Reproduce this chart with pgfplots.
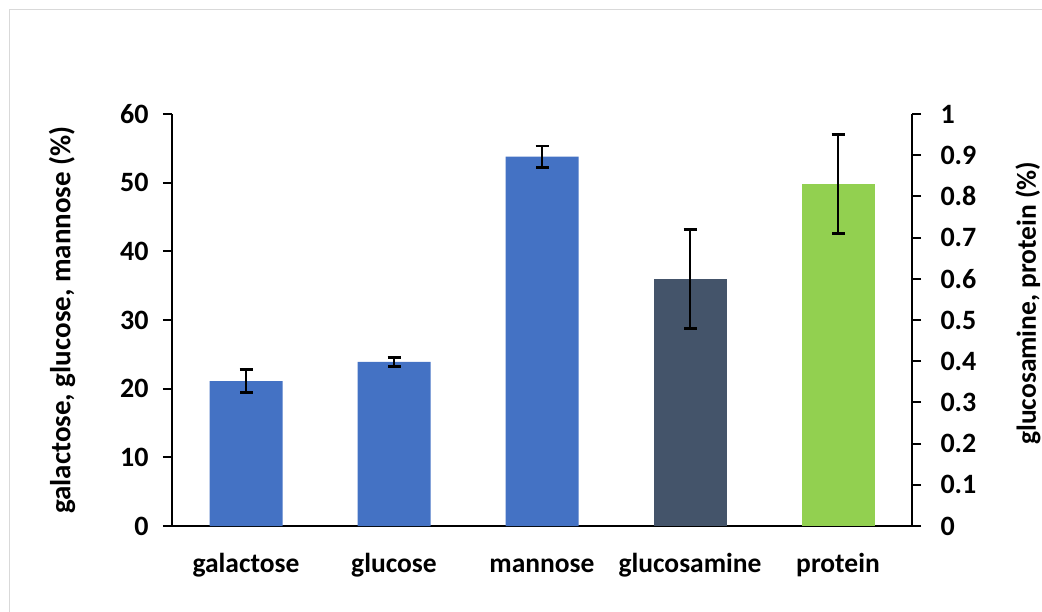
\documentclass[border=0pt]{standalone}
\usepackage{fontspec}
\setmainfont{Carlito}
\usepackage{pgfplots}
\pgfplotsset{compat=1.18}

\definecolor{barblue}{HTML}{4472C4}
\definecolor{barslate}{HTML}{44546A}
\definecolor{bargreen}{HTML}{92D050}
\definecolor{framegray}{HTML}{D9D9D9}

\pgfplotsset{
  common/.style={
    scale only axis, width=740pt, height=412pt,
    at={(172pt,-526pt)}, anchor=south west,
    xmin=-0.5, xmax=4.5,
    tick align=outside,
    major tick length=9pt,
    axis line style={line width=2.4pt, black},
    every tick/.style={line width=2pt, black},
    tick label style={font=\bfseries\fontsize{28}{32}\selectfont},
    /pgf/number format/assume math mode=true,
    clip=false,
  },
  errs/.style={
    error bars/.cd, y dir=both, y explicit,
    error bar style={line width=2.6pt, black},
    error mark options={rotate=90, mark size=6.5pt, line width=2.6pt, black},
  },
}

\begin{document}
\begin{tikzpicture}[x=1pt,y=1pt]
\useasboundingbox (0,0) rectangle (1042,-612);
\draw[framegray, line width=1.5pt] (9.5,-612) -- (9.5,-9.5) -- (1042,-9.5);

% left axis: neutral sugars
\begin{axis}[
  common,
  ymin=0, ymax=60,
  axis x line*=bottom, axis y line*=left,
  xtick={0,1,2,3,4},
  xticklabels={galactose,glucose,mannose,glucosamine,protein},
  x tick style={draw=none},
  xticklabel style={anchor=base, yshift=-37pt, font=\bfseries\fontsize{27.5}{32}\selectfont},
  ytick={0,10,...,60},
  yticklabel style={xshift=-11pt},
  ylabel={galactose, glucose, mannose (\%)},
  ylabel style={at={(axis description cs:-0.1486,0.5)}, anchor=center,
    font=\bfseries\fontsize{29}{33}\selectfont},
]
\addplot[ybar, bar width=73pt, fill=barblue, draw=none, errs]
  coordinates {(0,21.1) +- (0,1.7) (1,23.9) +- (0,0.65) (2,53.8) +- (0,1.55)};
\end{axis}

% right axis: glucosamine and protein
\begin{axis}[
  common,
  ymin=0, ymax=1,
  axis x line=none, axis y line*=right,
  ytick={0,0.1,0.2,0.3,0.4,0.5,0.6,0.7,0.8,0.9,1},
  yticklabels={0,0.1,0.2,0.3,0.4,0.5,0.6,0.7,0.8,0.9,1},
  yticklabel style={xshift=16pt},
  ylabel={glucosamine, protein (\%)},
  ylabel style={at={(axis description cs:1.1568,0.541)}, anchor=center, rotate=0,
    font=\bfseries\fontsize{27.5}{32}\selectfont},
]
\addplot[ybar, bar width=73pt, fill=barslate, draw=none, errs]
  coordinates {(3,0.60) +- (0,0.12)};
\addplot[ybar, bar width=73pt, fill=bargreen, draw=none, errs]
  coordinates {(4,0.83) +- (0,0.12)};
\end{axis}
\end{tikzpicture}
\end{document}
